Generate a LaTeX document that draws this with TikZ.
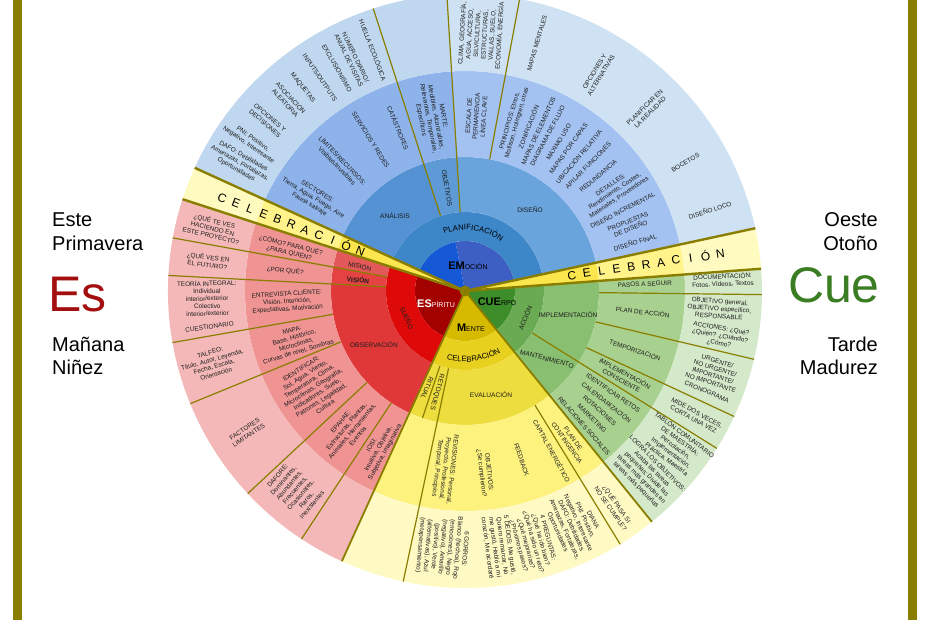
\documentclass[tikz,border=0pt]{standalone}
\usepackage{fontspec}
\setmainfont{Liberation Sans}
\usetikzlibrary{decorations.text}
\definecolor{olv}{HTML}{8A7E00}
\definecolor{txtc}{HTML}{1E1E1E}
\definecolor{emoL}{HTML}{1558D6}
\definecolor{emoR}{HTML}{3D5EC2}
\definecolor{planif}{HTML}{3D86C8}
\definecolor{analis}{HTML}{5592D3}
\definecolor{objet}{HTML}{5E9AD6}
\definecolor{disen}{HTML}{69A4DD}
\definecolor{blueA}{HTML}{8DB3EA}
\definecolor{blueB}{HTML}{A3C2F2}
\definecolor{blueC}{HTML}{BFD7EF}
\definecolor{blueD}{HTML}{CFE2F3}
\definecolor{celA}{HTML}{FCE64E}
\definecolor{celB}{HTML}{FFF38A}
\definecolor{celC}{HTML}{FFFBC0}
\definecolor{espA}{HTML}{A30000}
\definecolor{suenoC}{HTML}{DE0A0A}
\definecolor{misionC}{HTML}{E35858}
\definecolor{visionC}{HTML}{E54343}
\definecolor{observC}{HTML}{E03838}
\definecolor{redB}{HTML}{EF9393}
\definecolor{redC}{HTML}{F4B8B8}
\definecolor{menteA}{HTML}{D6BA00}
\definecolor{celebC}{HTML}{E8D11E}
\definecolor{evalC}{HTML}{EEDD3E}
\definecolor{yelB}{HTML}{FEF27E}
\definecolor{yelC}{HTML}{FFF9C4}
\definecolor{cuerA}{HTML}{3D8E2B}
\definecolor{accC}{HTML}{6AAA52}
\definecolor{implC}{HTML}{89BF71}
\definecolor{grnB}{HTML}{A8D08E}
\definecolor{grnC}{HTML}{D4E8CA}
\definecolor{esred}{HTML}{A30F0F}
\definecolor{cuegrn}{HTML}{3B7D23}
\newcommand{\rOne}{50}
\newcommand{\rTwo}{79}
\newcommand{\rThr}{134}
\newcommand{\rFou}{220}
\newcommand{\rOut}{297}
\tikzset{
  sepline/.style ={draw=olv,line width=1.2pt},
  bandline/.style={draw=olv,line width=2.4pt},
  mainline/.style={draw=olv,line width=1.8pt},
  lbl/.style     ={font=\fontsize{6.4}{7.5}\selectfont,align=center,inner sep=0pt,text=txtc},
  ringlbl/.style ={font=\fontsize{6.6}{8}\selectfont,inner sep=0pt,text=txtc},
  corelbl/.style ={font=\fontsize{11}{12}\selectfont,inner sep=0pt},
  bandlet/.style ={font=\fontsize{12}{12}\selectfont,inner sep=0pt},
  sidetxt/.style ={font=\fontsize{20}{22}\selectfont,inner sep=0pt},
  bigtxt/.style  ={font=\fontsize{50}{52}\selectfont,inner sep=0pt},
  hub/.style     ={circle,fill=olv,inner sep=0pt,minimum size=11pt},
}
\newcommand{\corepie}[4]{\fill[#4] (0,0) -- (#2:#1) arc[start angle=#2,end angle=#3,radius=#1] -- cycle;}
\newcommand{\ringseg}[5]{\fill[#5] (#3:#1) arc[start angle=#3,end angle=#4,radius=#1] -- (#4:#2) arc[start angle=#4,end angle=#3,radius=#2] -- cycle;}
\newcommand{\spoke}[4][sepline]{\draw[#1] (#2:#3) -- (#2:#4);}
\newcommand{\wlab}[5][]{\node[lbl,rotate=#3+180,#1] (#2) at (#3:#4) {#5};}
\newcommand{\elab}[5][]{\node[lbl,rotate=#3,#1] (#2) at (#3:#4) {#5};}
\newcommand{\smallpart}[1]{{\fontsize{7}{8}\selectfont #1}}

\begin{document}
\begin{tikzpicture}[x=1pt,y=1pt]
  \useasboundingbox (-465,-329) rectangle (465,291);
  \clip (-465,-329) rectangle (465,291);
  \fill[olv] (-452,-329) rectangle (-443,291);
  \fill[olv] (443,-329) rectangle (452,291);
  % emocion
  \corepie{\rOne}{12.2}{101}{emoR}
  \corepie{\rOne}{101}{155.5}{emoL}
  \ringseg{\rOne}{\rTwo}{12.2}{155.5}{planif}
  \ringseg{\rTwo}{\rThr}{108}{155.5}{analis}
  \ringseg{\rTwo}{\rThr}{93.5}{108}{objet}
  \ringseg{\rTwo}{\rThr}{12.2}{93.5}{disen}
  \ringseg{\rThr}{\rFou}{93.5}{155.5}{blueA}
  \ringseg{\rThr}{\rFou}{12.2}{93.5}{blueB}
  \ringseg{\rFou}{\rOut}{93.5}{155.5}{blueC}
  \ringseg{\rFou}{\rOut}{12.2}{93.5}{blueD}
  % celebracion
  \corepie{\rThr}{155.5}{162}{celA}
  \ringseg{\rThr}{\rFou}{155.5}{162}{celB}
  \ringseg{\rFou}{\rOut}{155.5}{162}{celC}
  \corepie{\rThr}{4.3}{12.2}{celA}
  \ringseg{\rThr}{\rFou}{4.3}{12.2}{celB}
  \ringseg{\rFou}{\rOut}{4.3}{12.2}{celC}
  % espiritu
  \corepie{\rOne}{162}{245.5}{espA}
  \ringseg{\rOne}{\rTwo}{162}{245.5}{suenoC}
  \ringseg{\rTwo}{\rThr}{162}{169.7}{misionC}
  \ringseg{\rTwo}{\rThr}{169.7}{177}{visionC}
  \ringseg{\rTwo}{\rThr}{177}{245.5}{observC}
  \ringseg{\rThr}{\rFou}{162}{245.5}{redB}
  \ringseg{\rFou}{\rOut}{162}{245.5}{redC}
  % mente
  \corepie{\rOne}{245.5}{309}{menteA}
  \ringseg{\rOne}{\rTwo}{245.5}{309}{celebC}
  \ringseg{\rTwo}{\rThr}{245.5}{309}{evalC}
  \ringseg{\rThr}{\rFou}{245.5}{309}{yelB}
  \ringseg{\rFou}{\rOut}{245.5}{309}{yelC}
  % cuerpo
  \corepie{\rOne}{309}{364.3}{cuerA}
  \ringseg{\rOne}{\rTwo}{309}{364.3}{accC}
  \ringseg{\rTwo}{\rThr}{309}{364.3}{implC}
  \ringseg{\rThr}{\rFou}{309}{364.3}{grnB}
  \ringseg{\rFou}{\rOut}{309}{364.3}{grnC}
  % divisiones
  \spoke{108}{\rTwo}{\rOut}
  \spoke{93.5}{\rTwo}{\rOut}
  \spoke{79.4}{\rThr}{\rOut}
  \spoke{169.7}{\rTwo}{\rOut}
  \spoke{177}{\rTwo}{\rOut}
  \foreach \a in {190,202.3,223,236.6} {\spoke{\a}{\rThr}{\rOut}}
  \spoke{251.5}{\rTwo}{\rThr}
  \spoke{258}{\rTwo}{\rOut}
  \spoke{301.5}{\rThr}{\rOut}
  \foreach \a in {-0.7,-13.3,-25} {\spoke{\a}{\rThr}{\rOut}}
  \spoke{-32}{\rTwo}{\rOut}
  \foreach \a in {155.5,162,4.3,12.2} {\spoke[bandline]{\a}{0}{\rOut}}
  \spoke[mainline]{245.5}{0}{\rOut}
  \spoke[mainline]{309}{0}{\rOut}
  \node[hub] (hubdot) at (0,0) {};
  % nucleo y anillos
  \node[corelbl] (emo) at (3,25) {\textbf{EM}\smallpart{OCIÓN}};
  \node[corelbl,text=white] (espi) at (-29,-13) {\textbf{ES}\smallpart{PÍRITU}};
  \node[corelbl] (mente) at (6,-37) {\textbf{M}\smallpart{ENTE}};
  \node[corelbl] (cuerpo) at (32,-11) {\textbf{CUE}\smallpart{RPO}};
  \path[decorate,decoration={text along path,text align=center,text={|\fontsize{7.8}{9}\selectfont|PLANIFICACIÓN}}] (134:61) arc[start angle=134,end angle=30,radius=61];
  \path[decorate,decoration={text along path,text align=center,text={|\fontsize{7.8}{9}\selectfont|CELEBRACIÓN}}] (242:71) arc[start angle=242,end angle=313,radius=71];
  \node[ringlbl,rotate=-65] (sueno) at (-58,-27) {SUEÑO};
  \node[ringlbl,rotate=68] (accion) at (60,-27) {ACCIÓN};
  \node[ringlbl] (analisis) at (-70,75) {ANÁLISIS};
  \node[ringlbl] (diseno) at (65,81) {DISEÑO};
  \node[ringlbl,rotate=-80] (objetivos) at (-18,103) {OBJETIVOS};
  \node[ringlbl,rotate=-12] (mision) at (-105,25) {MISIÓN};
  \node[ringlbl,rotate=-5,font=\fontsize{6.6}{8}\selectfont\bfseries] (vision) at (-107,11) {VISIÓN};
  \node[ringlbl] (observ) at (-91,-54) {OBSERVACIÓN};
  \node[ringlbl] (evalua) at (26,-104) {EVALUACIÓN};
  \node[ringlbl,rotate=-112] (ritual) at (-38,-97) {RITUAL};
  \node[ringlbl,rotate=-106] (retoques) at (-28,-101) {RETOQUES};
  \node[ringlbl] (implem) at (103,-24) {IMPLEMENTACIÓN};
  \node[ringlbl,rotate=-15] (manten) at (82,-68) {MANTENIMIENTO};
  % celebracion en bandas
  \foreach \ch [count=\i from 0] in {C,E,L,E,B,R,A,C,I,Ó,N} {
    \node[bandlet,rotate=-21] (lcel\i) at (159:{260-14.8*\i}) {\ch};
    \node[bandlet,rotate=8.3] (rcel\i) at (8.3:{108+15*\i}) {\ch};
  }
  % emocion: anillo 4
  \wlab{sectores}{148.5}{178}{SECTORES:\\Tierra, Agua, Fuego, Aire\\Fauna salvaje}
  \wlab{limites}{134.3}{179}{LÍMITES/RECURSOS:\\Visibles/Invisibles}
  \wlab{servic}{122}{178}{SERVICIOS Y REDES}
  \wlab{catas}{112.3}{176}{CATÁSTROFES}
  \wlab{marte}{100.8}{176}{MARTE:\\\textit{Medibles, Alcanzables,}\\\textit{Relevantes, Temporales,}\\\textit{Específicos}}
  \elab{escala}{86.3}{175}{ESCALA DE\\PERMANENCIA\\LÍNEA CLAVE}
  \elab{princ}{74}{176}{PRINCIPIOS: Etnos,\\Mollison, Holmgren, otras}
  \elab{zonif}{68.9}{176}{ZONIFICACIÓN}
  \elab{mapelem}{65.3}{176}{MAPAS DE ELEMENTOS}
  \elab{diagfl}{62}{176}{DIAGRAMA DE FLUJO}
  \elab{maxuso}{58}{176}{MÁXIMO USO}
  \elab{mapcap}{54}{176}{MAPAS POR CAPAS}
  \elab{ubicrel}{49.8}{176}{UBICACIÓN RELATIVA}
  \elab{apilar}{45.5}{176}{APILAR FUNCIONES}
  \elab{redund}{40.8}{176}{REDUNDANCIA}
  \elab{detalles}{33.6}{180}{DETALLES:\\Rendimiento, Costes,\\Materiales, Proveedores}
  \elab{disincr}{27.2}{177}{DISEÑO INCREMENTAL}
  \elab{propuestas}{21.8}{177}{PROPUESTAS\\DE DISEÑO}
  \elab{disfinal}{16}{177}{DISEÑO FINAL}
  % emocion: anillo exterior
  \wlab{dafoB}{150.4}{259}{DAFO: Debilidades\\Amenazas, Fortalezas,\\Oportunidades}
  \wlab{pniB}{145.2}{261}{PNI: Positivo,\\Negativo, Interesante}
  \wlab{opcdec}{139.2}{261}{OPCIONES Y\\DECISIONES}
  \wlab{asoc}{132.8}{260}{ASOCIACIÓN\\ALEATORIA}
  \wlab{maqu}{128.6}{260}{MAQUETAS}
  \wlab{inout}{124.2}{258}{INPUTS/OUTPUTS}
  \wlab{exclu}{119.9}{257}{EXCLUSIONISMO}
  \wlab{visitas}{115.8}{258}{NÚMERO DIARIO/\\ANUAL DE VISITAS}
  \wlab{huella}{110.9}{258}{HUELLA ECOLÓGICA}
  \elab{clima}{86.5}{257}{CLIMA, GEOGRAFÍA,\\AGUA, ACCESO,\\SILVICULTURA,\\ESTRUCTURAS,\\VALLAS, SUELO,\\ECONOMÍA, ENERGÍA}
  \elab{mapment}{73.8}{258}{MAPAS MENTALES}
  \elab{opcalt}{58.6}{255}{OPCIONES Y\\ALTERNATIVAS}
  \elab{planreal}{44.8}{257}{PLANIFICAR EN\\LA REALIDAD}
  \elab{bocetos}{30.2}{255}{BOCETOS}
  \elab{disloco}{18.3}{258}{DISEÑO LOCO}
  % espiritu
  \wlab{como}{166.5}{180}{¿CÓMO? PARA QUÉ?\\¿PARA QUIÉN?}
  \wlab{porque}{173.5}{181}{¿POR QUÉ?}
  \wlab{entrev}{183.5}{178}{ENTREVISTA CLIENTE:\\Visión, Intención,\\Expectativas, Motivación}
  \wlab{mapa}{196.5}{177}{MAPA:\\Base, Histórico,\\Microclimas,\\Curvas de nivel, Sombras}
  \wlab{identif}{212.5}{180}{IDENTIFICAR:\\Sol, Agua, Viento,\\Temperatura, Clima,\\Microclimas, Geografía,\\Indicadores, Suelo,\\Patrones, Legalidad,\\Cultura}
  \wlab{epahae}{230}{180}{EPAHAE:\\Estructuras, Plantas,\\Animales, Herramientas,\\Eventos}
  \wlab{iosi}{241.3}{180}{IOSI:\\Intuitiva, Objetiva,\\Subjetiva, Imaginativa}
  \wlab{quete}{166}{260}{¿QUÉ TE VES\\HACIENDO EN\\ESTE PROYECTO?}
  \wlab{queves}{173.3}{259}{¿QUÉ VES EN\\EL FUTURO?}
  \wlab{teoria}{181.6}{258}{TEORÍA INTEGRAL:\\Individual\\interior/exterior\\Colectivo\\interior/exterior}
  \wlab{cuestion}{188}{258}{CUESTIONARIO}
  \wlab{talfeo}{196}{262}{TALFEO:\\Título, Autor, Leyenda,\\Fecha, Escala,\\Orientación}
  \wlab{factores}{212.9}{260}{FACTORES\\LIMITANTES}
  \wlab{dafore}{229.5}{262}{DAFORE:\\Dominantes,\\Abundantes,\\Frecuentes,\\Ocasionales,\\Raros,\\Inexistentes}
  % mente
  \elab{revis}{263.5}{179}{REVISIONES: Personal,\\Proyecto, Profesional,\\Temporal, Principios}
  \elab{objsi}{276.3}{183}{OBJETIVOS:\\¿Se cumplieron?}
  \elab{feedb}{288.5}{178}{FEEDBACK}
  \elab{capen}{298.5}{182}{CAPITAL ENERGÉTICO}
  \elab{contin}{305}{183}{PLAN DE\\CONTINGENCIA}
  \elab{gorros}{265}{257}{6 GORROS:\\Blanco (hechos), Rojo\\(emociones), Negro\\(negativo), Amarillo\\(positivo), Verde\\(alternativas), Azul\\(metapensamiento)}
  \elab{dedos}{277.5}{258}{5 DEDOS: Me gustó,\\Quiero remarcar, No\\me gustó, Habló a mi\\corazón, Me acordaré}
  \elab{pregun}{285.2}{260}{4 PREGUNTAS:\\¿Qué ha ido bien?\\¿Qué ha sido un reto?\\¿Qué mejorarías?\\¿Próximos pasos?}
  \elab{pnidafo}{294.3}{258}{PNI: Positivo,\\Negativo, Interesante\\DAFO: Debilidades,\\Amenazas, Fortalezas,\\Oportunidades}
  \elab{diana}{299.3}{262}{DIANA}
  \elab{quepasa}{304.7}{262}{¿QUÉ PASA SI\\NO SE CUMPLE?}
  % cuerpo
  \elab{pasos}{2.2}{180}{PASOS A SEGUIR}
  \elab{planacc}{-6.7}{179}{PLAN DE ACCIÓN}
  \elab{tempo}{-19.1}{180}{TEMPORIZACIÓN}
  \elab{implcons}{-28.4}{180}{IMPLEMENTACIÓN\\CONSCIENTE}
  \elab{identre}{-34.6}{180}{IDENTIFICAR RETOS}
  \elab{calend}{-38.1}{180}{CALENDARIZACIÓN}
  \elab{rotac}{-41.6}{180}{ROTACIONES}
  \elab{market}{-45.1}{180}{MARKETING}
  \elab{relsoc}{-48.6}{180}{RELACIONES SOCIALES}
  \elab{docum}{2.4}{258}{DOCUMENTACIÓN:\\Fotos, Vídeos, Textos}
  \elab{objgen}{-4}{255}{OBJETIVO general,\\OBJETIVO específico,\\RESPONSABLE}
  \elab{acciones}{-10}{259}{ACCIONES: ¿Qué?\\¿Quién? ¿Cuándo?\\¿Cómo?}
  \elab{urgente}{-18}{262}{URGENTE/\\NO URGENTE/\\IMPORTANTE/\\NO IMPORTANTE}
  \elab{crono}{-22.6}{262}{CRONOGRAMA}
  \elab{mide}{-28.5}{262}{MIDE DOS VECES,\\CORTA UNA VEZ}
  \elab{tablon}{-36.5}{262}{TABLÓN COMUNITARIO\\DE MAESTRÍA:\\Percolación,\\Implementación,\\Práctica, Maestría}
  \elab{logra}{-45.3}{258}{LOGRA LOS OBJETIVOS:\\Acaba las tareas\\pequeñas; Divide las\\tareas más grandes en\\tareas más pequeñas}
  % textos laterales
  \node[sidetxt,anchor=base west] (este) at (-413,64) {Este};
  \node[sidetxt,anchor=base west] (primav) at (-413,40) {Primavera};
  \node[bigtxt,anchor=base west,text=esred] (esbig) at (-417,-21) {Es};
  \node[sidetxt,anchor=base west] (manana) at (-413,-61) {Mañana};
  \node[sidetxt,anchor=base west] (ninez) at (-413,-84) {Niñez};
  \node[sidetxt,anchor=base east] (oeste) at (413,64) {Oeste};
  \node[sidetxt,anchor=base east] (otono) at (413,40) {Otoño};
  \node[bigtxt,anchor=base east,text=cuegrn] (cuebig) at (415,-12) {Cue};
  \node[sidetxt,anchor=base east] (tarde) at (413,-61) {Tarde};
  \node[sidetxt,anchor=base east] (madurez) at (413,-84) {Madurez};
\end{tikzpicture}
\end{document}
